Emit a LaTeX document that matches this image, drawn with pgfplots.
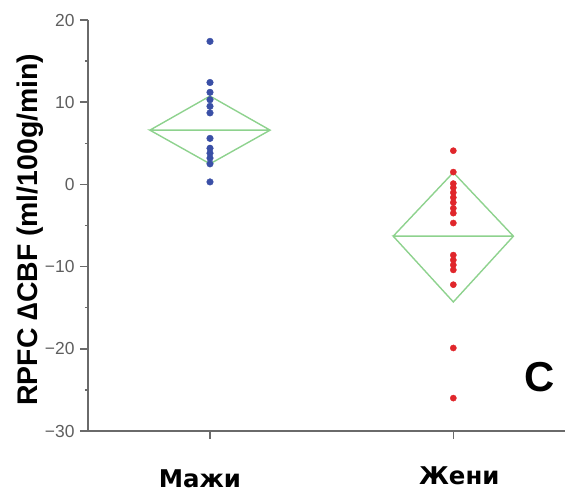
\documentclass[border=0pt]{standalone}
\usepackage{pgfplots}
\pgfplotsset{compat=1.18}
\usepackage{fontspec}
\setmainfont{Liberation Sans}
\newfontfamily\dejavu{DejaVu Sans}
\definecolor{axgray}{HTML}{6A6A6A}
\definecolor{lblgray}{HTML}{5E5E5E}
\definecolor{ptblue}{HTML}{3A4FA6}
\definecolor{ptred}{HTML}{E0262B}
\definecolor{dgreen}{HTML}{8ED28E}
\begin{document}
\begin{tikzpicture}
\begin{axis}[
  name=ax,
  scale only axis,
  width=477bp, height=411bp,
  xmin=0.4986, xmax=2.459,
  ymin=-30, ymax=20,
  axis x line*=bottom, axis y line*=left,
  axis line style={axgray, line width=1.7bp},
  every tick/.style={axgray, line width=1.5bp},
  tick align=outside,
  major tick length=8bp, minor tick length=3bp,
  ytick={-30,-20,-10,0,10,20},
  yticklabels={−30,−20,−10,0,10,20},
  minor ytick={-25,-15,-5,5,15},
  yticklabel style={font=\fontsize{17.5}{17.5}\selectfont, text=lblgray, xshift=-2bp},
  xtick={1,2},
  xticklabels={\raisebox{-2.5bp}{Мажи\hspace{20bp}},\raisebox{1bp}{\hspace{12bp}Жени}},
  xticklabel style={font=\dejavu\bfseries\fontsize{24.5}{24.5}\selectfont, anchor=base, yshift=-46bp},
  ylabel={\bfseries RPFC ∆CBF (ml/100g/min)},
  ylabel style={font=\fontsize{28.5}{28.5}\selectfont, at={(axis description cs:-0.122,0.49)}, anchor=center},
  clip=false,
]
% diamonds (mean +/- CI)
\addplot[dgreen, line width=1.4bp] coordinates {(0.753,6.6) (1,10.75) (1.247,6.6) (1,2.5) (0.753,6.6) (1.247,6.6)};
\addplot[dgreen, line width=1.4bp] coordinates {(1.753,-6.3) (2,1.45) (2.247,-6.3) (2,-14.3) (1.753,-6.3) (2.247,-6.3)};
% points
\addplot[only marks, mark=*, mark size=3.3bp, ptblue, mark options={draw=none, fill=ptblue}] coordinates {
(1,17.4) (1,12.4) (1,11.2) (1,10.3) (1,9.5) (1,8.7) (1,5.6) (1,4.4) (1,3.8) (1,3.2) (1,2.5) (1,0.3)};
\addplot[only marks, mark=*, mark size=3.1bp, ptred, mark options={draw=none, fill=ptred}] coordinates {
(2,4.1) (2,1.5) (2,0.1) (2,-0.4) (2,-1.0) (2,-1.6) (2,-2.2) (2,-2.9) (2,-3.5) (2,-4.7) (2,-8.6) (2,-9.2) (2,-9.8) (2,-10.4) (2,-12.2) (2,-19.9) (2,-26.0)};
\node[font=\bfseries\fontsize{42}{42}\selectfont] at (axis cs:2.354,-23.4) {C};
\end{axis}
\pgfresetboundingbox
\path ([shift={(-88bp,-62bp)}]ax.south west) rectangle +(565bp,493bp);
\end{tikzpicture}
\end{document}
